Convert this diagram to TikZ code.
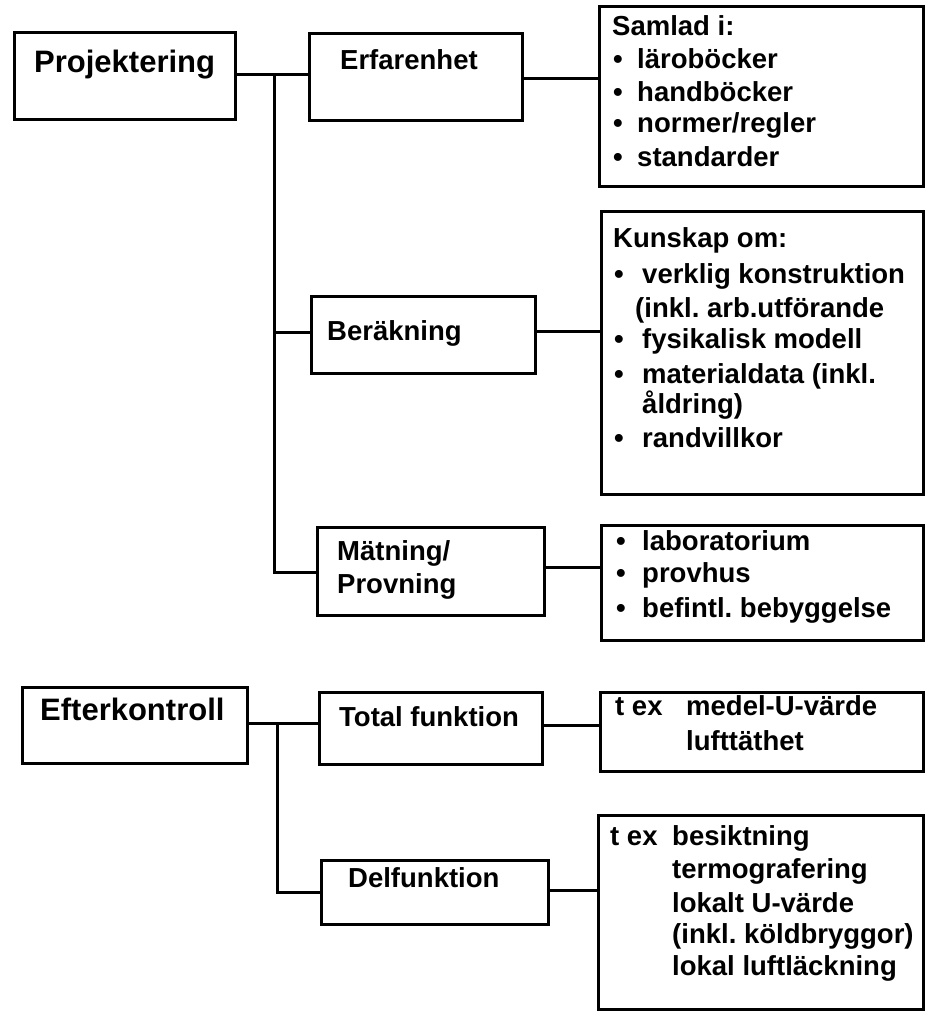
\documentclass[tikz,border=0pt]{standalone}
\usepackage{fontspec}
\setmainfont{Liberation Sans}
\frenchspacing
\begin{document}
\begin{tikzpicture}[x=1pt,y=-1pt,
  box/.style={draw, line width=3pt, inner sep=0pt, anchor=north west},
  txt/.style={anchor=base west, inner sep=0pt, font=\fontsize{27.5}{33}\selectfont\bfseries\frenchspacing},
  big/.style={txt, font=\fontsize{31}{37}\selectfont\bfseries},
  bul/.style={anchor=base, inner sep=0pt, font=\fontsize{27.5}{33}\selectfont\bfseries},
  conn/.style={line width=3pt}]
\fill[white] (0,0) rectangle (924,1011);
\useasboundingbox (0,0) rectangle (924,1011);

% boxes
\node[box, minimum width=221pt, minimum height=87pt] (proj) at (13,31) {};
\node[box, minimum width=213pt, minimum height=87pt] (erf) at (308,32) {};
\node[box, minimum width=324pt, minimum height=180pt] (samlad) at (598,5) {};
\node[box, minimum width=224pt, minimum height=77pt] (ber) at (310,295) {};
\node[box, minimum width=322pt, minimum height=283pt] (kunskap) at (600,210) {};
\node[box, minimum width=227pt, minimum height=88pt] (mat) at (316,526) {};
\node[box, minimum width=322pt, minimum height=115pt] (lab) at (600,524) {};
\node[box, minimum width=225pt, minimum height=76pt] (efter) at (21,686) {};
\node[box, minimum width=223pt, minimum height=72pt] (total) at (318,691) {};
\node[box, minimum width=323pt, minimum height=79pt] (texa) at (599,691) {};
\node[box, minimum width=227pt, minimum height=64pt] (del) at (320,859) {};
\node[box, minimum width=325pt, minimum height=194pt] (texb) at (597,814) {};

% texts
\node[big] (tproj) at (34,73) {Projektering};
\node[txt] (terf) at (340,70) {Erfarenhet};
\node[txt] (tsam0) at (612,36) {Samlad i:};
\node[bul] (bs1) at (618,69) {•};
\node[txt] (tsam1) at (637,69) {läroböcker};
\node[bul] (bs2) at (618,102) {•};
\node[txt] (tsam2) at (637,102) {handböcker};
\node[bul] (bs3) at (618,133) {•};
\node[txt] (tsam3) at (637,133) {normer/regler};
\node[bul] (bs4) at (618,167) {•};
\node[txt] (tsam4) at (637,167) {standarder};

\node[txt] (tber) at (327,340) {Beräkning};
\node[txt] (tk0) at (613,247) {Kunskap om:};
\node[bul] (bk1) at (619,283) {•};
\node[txt] (tk1) at (642,283) {verklig konstruktion};
\node[txt] (tk2) at (635,317) {(inkl. arb.utförande};
\node[bul] (bk3) at (619,348) {•};
\node[txt] (tk3) at (642,348) {fysikalisk modell};
\node[bul] (bk4) at (619,383) {•};
\node[txt] (tk4) at (642,383) {materialdata (inkl.};
\node[txt] (tk5) at (642,413) {åldring)};
\node[bul] (bk6) at (619,447) {•};
\node[txt] (tk6) at (642,447) {randvillkor};

\node[txt] (tmat1) at (337,560) {Mätning/};
\node[txt] (tmat2) at (337,593) {Provning};
\node[bul] (bl1) at (621,550) {•};
\node[txt] (tl1) at (642,550) {laboratorium};
\node[bul] (bl2) at (621,582) {•};
\node[txt] (tl2) at (642,582) {provhus};
\node[bul] (bl3) at (621,617) {•};
\node[txt] (tl3) at (642,617) {befintl. bebyggelse};

\node[big] (tefter) at (40,720) {Efterkontroll};
\node[txt] (ttotal) at (339,726) {Total funktion};
\node[txt] (ta0) at (615,715) {t ex};
\node[txt] (ta1) at (686,715) {medel-U-värde};
\node[txt] (ta2) at (686,750) {lufttäthet};

\node[txt] (tdel) at (348,887) {Delfunktion};
\node[txt] (tb0) at (610,845) {t ex};
\node[txt] (tb1) at (672,845) {besiktning};
\node[txt] (tb2) at (672,878) {termografering};
\node[txt] (tb3) at (672,912) {lokalt U-värde};
\node[txt] (tb4) at (672,943) {(inkl. köldbryggor)};
\node[txt] (tb5) at (672,975) {lokal luftläckning};

% connectors - upper tree
\coordinate (jA) at (274,75);
\coordinate (jB) at (274,332);
\coordinate (jC) at (274,572);
\draw[conn] (proj.east |- jA) -- (erf.west |- jA);
\draw[conn] (jA) -- (jC) -- (mat.west |- jC);
\draw[conn] (jB) -- (ber.west |- jB);
\coordinate (r1) at (0,79);
\coordinate (r2) at (0,331);
\coordinate (r3) at (0,567);
\draw[conn] (erf.east |- r1) -- (samlad.west |- r1);
\draw[conn] (ber.east |- r2) -- (kunskap.west |- r2);
\draw[conn] (mat.east |- r3) -- (lab.west |- r3);

% connectors - lower tree
\coordinate (jD) at (277,723);
\coordinate (jE) at (277,892);
\draw[conn] (efter.east |- jD) -- (total.west |- jD);
\draw[conn] (jD) -- (jE) -- (del.west |- jE);
\coordinate (r4) at (0,725);
\coordinate (r5) at (0,890);
\draw[conn] (total.east |- r4) -- (texa.west |- r4);
\draw[conn] (del.east |- r5) -- (texb.west |- r5);
\end{tikzpicture}
\end{document}
